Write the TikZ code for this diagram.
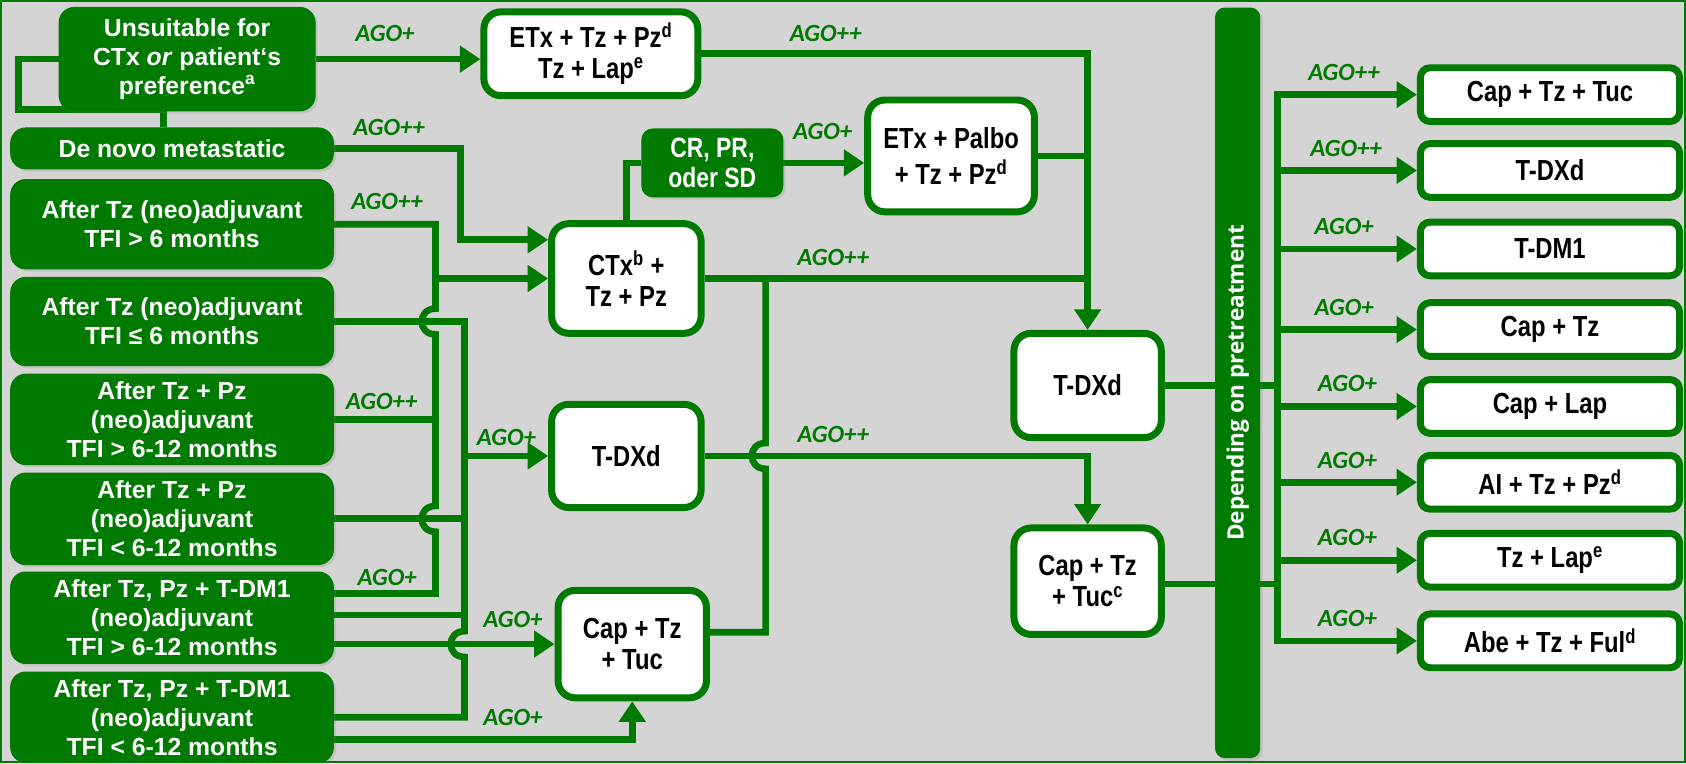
\documentclass[tikz,border=0pt]{standalone}
\usepackage{fontspec}
\setmainfont{Liberation Sans}
\newfontfamily\narrowfont[FakeStretch=0.82]{Liberation Sans}
\newfontfamily\agofont{Carlito}
\newfontfamily\barfont{Open Sans}
\usetikzlibrary{arrows.meta,shadows}
\definecolor{gr}{RGB}{0,122,0}
\definecolor{bgc}{RGB}{212,212,212}
\pgfdeclarelayer{back}
\pgfdeclarelayer{lines}
\pgfsetlayers{back,lines,main}
\begin{document}
\begin{tikzpicture}[x=1pt,y=-1pt,
  shad/.style={drop shadow={opacity=0.22, shadow xshift=2.5pt, shadow yshift=-2.5pt}},
  lbox/.style={rectangle, rounded corners=14pt, fill=gr, draw=gr, line width=1pt, text=white,
    font=\fontsize{23}{27}\selectfont\bfseries, align=center, inner sep=0pt, shad},
  wbox/.style={rectangle, rounded corners=16pt, fill=white, draw=gr, line width=6.5pt,
    font=\narrowfont\fontsize{27}{29}\selectfont\bfseries, align=center, inner sep=0pt, shad},
  rbox/.style={wbox, rounded corners=9pt, minimum width=241pt, minimum height=50pt},
  conn/.style={draw=gr, line width=6.2pt},
  arr/.style={conn, -{Triangle[length=19pt,width=24pt]}},
  ago/.style={text=gr, font=\agofont\fontsize{23}{23}\selectfont\bfseries\itshape, inner sep=0pt},
]
\useasboundingbox (0,0) rectangle (1568,710);
\begin{pgfonlayer}{back}
\fill[bgc] (0,0) rectangle (1568,710);
\draw[gr, line width=2pt] (1,1) rectangle (1567,709);
\end{pgfonlayer}

% left boxes
\node[lbox, minimum width=238pt, minimum height=96pt] (b1) at (174,55) {Unsuitable for\\CTx \textit{or} patient‘s\\preference\textsuperscript{a}};
\node[lbox, minimum width=300pt, minimum height=38pt] (b2) at (160,138) {De novo metastatic};
\node[lbox, minimum width=300pt, minimum height=83pt] (b3) at (160,208.5) {After Tz (neo)adjuvant\\TFI > 6 months};
\node[lbox, minimum width=300pt, minimum height=82pt] (b4) at (160,299) {After Tz (neo)adjuvant\\TFI ≤ 6 months};
\node[lbox, minimum width=300pt, minimum height=84pt] (b5) at (160,390) {After Tz + Pz\\(neo)adjuvant\\TFI > 6-12 months};
\node[lbox, minimum width=300pt, minimum height=85pt] (b6) at (160,482.5) {After Tz + Pz\\(neo)adjuvant\\TFI < 6-12 months};
\node[lbox, minimum width=300pt, minimum height=85pt] (b7) at (160,574.5) {After Tz, Pz + T-DM1\\(neo)adjuvant\\TFI > 6-12 months};
\node[lbox, minimum width=300pt, minimum height=84pt] (b8) at (160,667) {After Tz, Pz + T-DM1\\(neo)adjuvant\\TFI < 6-12 months};

% middle boxes
\node[wbox, minimum width=199pt, minimum height=78pt] (w1) at (549.5,50) {ETx + Tz + Pz\textsuperscript{d}\\Tz + Lap\textsuperscript{e}};
\node[lbox, rounded corners=10pt, minimum width=131pt, minimum height=63pt,
  font=\narrowfont\fontsize{26}{28}\selectfont\bfseries] (cr) at (662.5,151.5) {CR, PR,\\oder SD};
\node[wbox, minimum width=155pt, minimum height=104pt, font=\narrowfont\fontsize{27}{33}\selectfont\bfseries] (w2) at (884.5,145) {ETx + Palbo\\+ Tz + Pz\textsuperscript{d}};
\node[wbox, minimum width=139pt, minimum height=102pt] (w3) at (582.5,259) {CTx\textsuperscript{b} +\\Tz + Pz};
\node[wbox, minimum width=139pt, minimum height=96pt] (w4) at (582.5,424) {T-DXd};
\node[wbox, minimum width=138pt, minimum height=100pt] (w5) at (588,599) {Cap + Tz\\+ Tuc};
\node[wbox, minimum width=137pt, minimum height=97pt] (w6) at (1011.5,358.5) {T-DXd};
\node[wbox, minimum width=137pt, minimum height=99pt] (w7) at (1011.5,540.5) {Cap + Tz\\+ Tuc\textsuperscript{c}};

% bar
\node[fill=gr, rounded corners=9pt, minimum width=42pt, minimum height=698pt, inner sep=0pt, shad] (bar) at (1151,356) {};
\node[rotate=90, text=white, font=\barfont\fontsize{21}{21}\selectfont\bfseries, inner sep=0pt] (bartext) at (bar.center) {Depending on pretreatment};

% right boxes
\node[rbox] (r1) at (1441.5,88) {Cap + Tz + Tuc};
\node[rbox] (r2) at (1441.5,158.5) {T-DXd};
\node[rbox] (r3) at (1441.5,231.5) {T-DM1};
\node[rbox] (r4) at (1441.5,306.5) {Cap + Tz};
\node[rbox] (r5) at (1441.5,378) {Cap + Lap};
\node[rbox] (r6) at (1441.5,448.5) {AI + Tz + Pz\textsuperscript{d}};
\node[rbox] (r7) at (1441.5,521) {Tz + Lap\textsuperscript{e}};
\node[rbox] (r8) at (1441.5,596) {Abe + Tz + Ful\textsuperscript{d}};

% labels
\node[ago] (l1) at (358,31) {AGO+};
\node[ago] (l2) at (362,119) {AGO++};
\node[ago] (l3) at (360,187) {AGO++};
\node[ago] (l4) at (355,373) {AGO++};
\node[ago] (l5) at (471,407) {AGO+};
\node[ago] (l6) at (360,537) {AGO+};
\node[ago] (l7) at (477,576) {AGO+};
\node[ago] (l8) at (477,667) {AGO+};
\node[ago] (l9) at (768,31) {AGO++};
\node[ago] (l10) at (765,122) {AGO+};
\node[ago] (l11) at (775,239) {AGO++};
\node[ago] (l12) at (775,404) {AGO++};
\node[ago] (m1) at (1250,67) {AGO++};
\node[ago] (m2) at (1252,138) {AGO++};
\node[ago] (m3) at (1250,211) {AGO+};
\node[ago] (m4) at (1250,286) {AGO+};
\node[ago] (m5) at (1253,357) {AGO+};
\node[ago] (m6) at (1253,428) {AGO+};
\node[ago] (m7) at (1253,500) {AGO+};
\node[ago] (m8) at (1253,575) {AGO+};

\begin{pgfonlayer}{lines}
% bracket B1 - B2
\draw[conn, line join=miter] (b1.west) -- (17,55) -- (17,102) -- (152,102) -- (b2.north -| 152,0);
% B1 -> W1
\draw[arr] (b1.east) -- (b1.east -| w1.west);
% B2 -> W3
\draw[arr, line join=miter] (b2.east) -- (428,138) -- (428,223) -- (w3.west |- 0,223);
% bus A
\draw[conn, line join=miter] (b3.east) -- (405,208.5) -- (405,287)
  .. controls (388,287) and (388,311) .. (405,311) -- (405,470.5)
  .. controls (388,470.5) and (388,494.5) .. (405,494.5) -- (405,552) -- (b7.east |- 0,552);
\draw[arr] (405,259) -- (w3.west);
\draw[conn] (b5.east) -- (405,390);
% bus B
\draw[conn, line join=miter] (b4.east) -- (432,299) -- (432,587)
  .. controls (415,587) and (415,611) .. (432,611) -- (432,667) -- (b8.east);
\draw[arr] (432,424) -- (w4.west);
\draw[conn] (b6.east) -- (432,482.5);
\draw[conn] (b7.east |- 0,572) -- (432,572);
\draw[arr] (b7.east |- 0,599) -- (w5.west);
\draw[arr, line join=miter] (b8.east |- 0,688) -| (w5.south);
% CTx -> CR -> W2
\draw[conn, line join=miter] (w3.north) |- (cr.west);
\draw[arr] (cr.east) -- (cr.east -| w2.west);
% to T-DXd right
\draw[arr, line join=miter] (w1.east) -| (w6.north);
\draw[conn] (w2.east) -- (w2.east -| w6.north);
\draw[conn] (w3.east) -- (w3.east -| w6.north);
% vertical from Cap+Tz+Tuc to CTx output
\draw[conn, line join=miter] (w5.east |- 0,588) -- (712,588) -- (712,436)
  .. controls (695,436) and (695,412) .. (712,412) -- (712,259);
% T-DXd mid -> Cap+Tz+Tuc right
\draw[arr, line join=miter] (w4.east) -| (w7.north);
% right side
\draw[conn] (w6.east) -- (1188,358.5);
\draw[conn] (w7.east |- 0,543) -- (1188,543);
\draw[conn, line cap=rect] (r1.west -| 1188,0) -- (r8.west -| 1188,0);
\foreach \r in {r1,r2,r3,r4,r5,r6,r7,r8}
  \draw[arr] (\r.west -| 1188,0) -- (\r.west);
\end{pgfonlayer}
\end{tikzpicture}
\end{document}
